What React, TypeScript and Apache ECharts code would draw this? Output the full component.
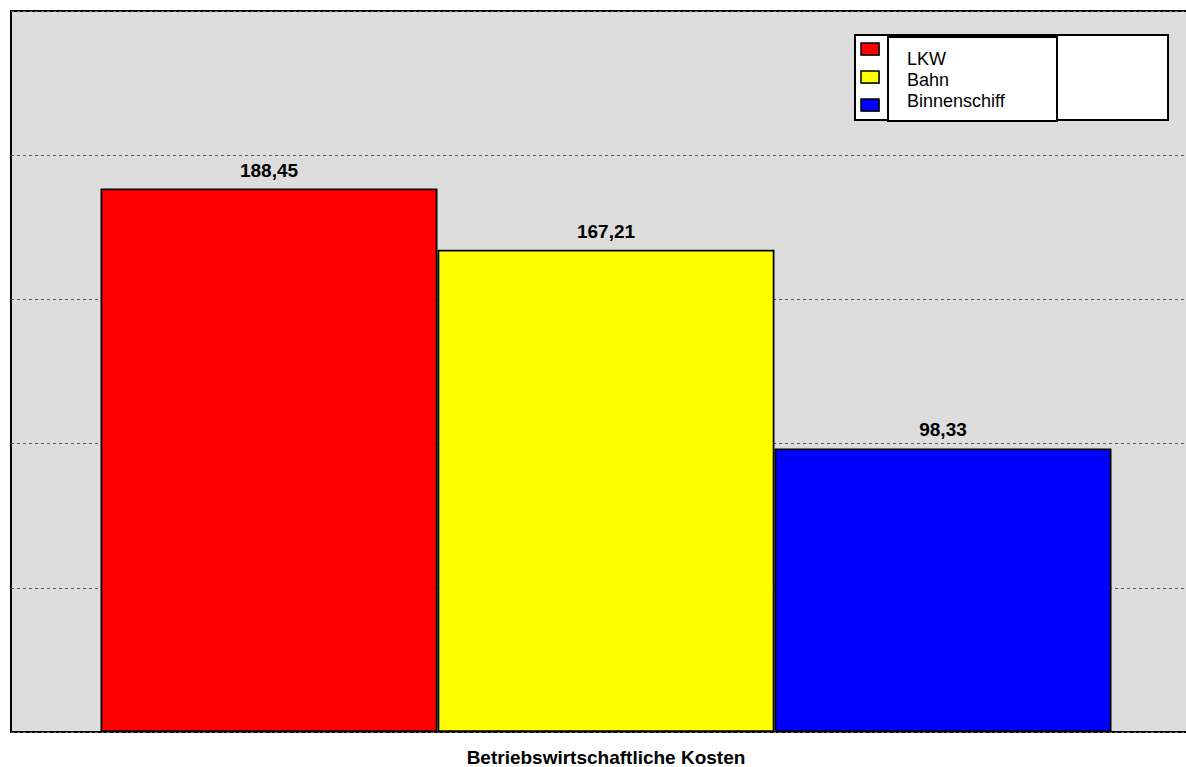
import React, { useEffect, useRef } from "react";
import * as echarts from "echarts";

const categories = ["Betriebswirtschaftliche Kosten"];
const seriesNames = ["LKW", "Bahn", "Binnenschiff"];
const seriesValues = [188.45, 167.21, 98.33];
const seriesColors = ["#ff0000", "#ffff00", "#0000ff"];
const yMin = 0;
const yMax = 250;
const yInterval = 50;

export default function App() {
  const ref = useRef<HTMLDivElement>(null);
  useEffect(() => {
    if (!ref.current) return;
    const chart = echarts.init(ref.current, undefined, { renderer: "svg" });
    const font = "Liberation Sans, Arial, sans-serif";
    const legendGraphics: any[] = [
      {
        type: "rect",
        shape: { x: 855, y: 35, width: 313, height: 85 },
        style: { fill: "#ffffff", stroke: "#000000", lineWidth: 2 },
        z: 10,
      },
      {
        type: "rect",
        shape: { x: 888, y: 37, width: 169, height: 84 },
        style: { fill: "#ffffff", stroke: "#000000", lineWidth: 2 },
        z: 11,
      },
    ];
    const swatchY = [43, 71, 99];
    const textY = [59, 80, 101];
    seriesNames.forEach((name, i) => {
      legendGraphics.push({
        type: "rect",
        shape: { x: 862, y: swatchY[i] + 1, width: 18, height: 12 },
        style: { fill: "#999999" },
        z: 11,
      });
      legendGraphics.push({
        type: "rect",
        shape: { x: 861, y: swatchY[i], width: 18, height: 12 },
        style: { fill: seriesColors[i], stroke: "#000000", lineWidth: 1.5 },
        z: 12,
      });
      legendGraphics.push({
        type: "text",
        x: 907,
        y: textY[i],
        style: {
          text: name,
          font: `18px ${font}`,
          fill: "#000000",
          textVerticalAlign: "middle",
          textAlign: "left",
        },
        z: 13,
      });
    });

    chart.setOption({
      animation: false,
      backgroundColor: "#ffffff",
      grid: {
        left: 11,
        top: 11,
        width: 1190,
        bottom: 35,
        show: true,
        backgroundColor: "#dddddd",
        borderColor: "#000000",
        borderWidth: 2,
        containLabel: false,
        outerBoundsMode: "none",
      },
      xAxis: {
        type: "category",
        data: categories,
        axisLine: { show: false },
        axisTick: { show: false },
        axisLabel: { show: false },
        name: categories[0],
        nameLocation: "middle",
        nameGap: 16,
        nameTextStyle: {
          fontFamily: font,
          fontWeight: "bold",
          fontSize: 19,
          color: "#000000",
        },
      },
      yAxis: {
        type: "value",
        min: yMin,
        max: yMax,
        interval: yInterval,
        axisLine: { show: false },
        axisTick: { show: false },
        axisLabel: { show: false },
        splitLine: {
          show: true,
          lineStyle: { color: "#555555", type: [3, 3], width: 1 },
        },
      },
      series: seriesNames.map((name, i) => ({
        name,
        type: "bar",
        data: [seriesValues[i]],
        barWidth: 337,
        barGap: "0%",
        itemStyle: {
          color: seriesColors[i],
          borderColor: "#000000",
          borderWidth: 1.8,
        },
        label: {
          show: true,
          position: "top",
          distance: 9,
          fontFamily: font,
          fontWeight: "bold",
          fontSize: 19,
          color: "#000000",
          formatter: (p: any) => p.value.toFixed(2).replace(".", ","),
        },
      })),
      graphic: legendGraphics,
    });
    return () => chart.dispose();
  }, []);
  return (
    <div
      ref={ref}
      style={{ position: "fixed", left: 0, top: 0, width: 1186, height: 767 }}
    />
  );
}
